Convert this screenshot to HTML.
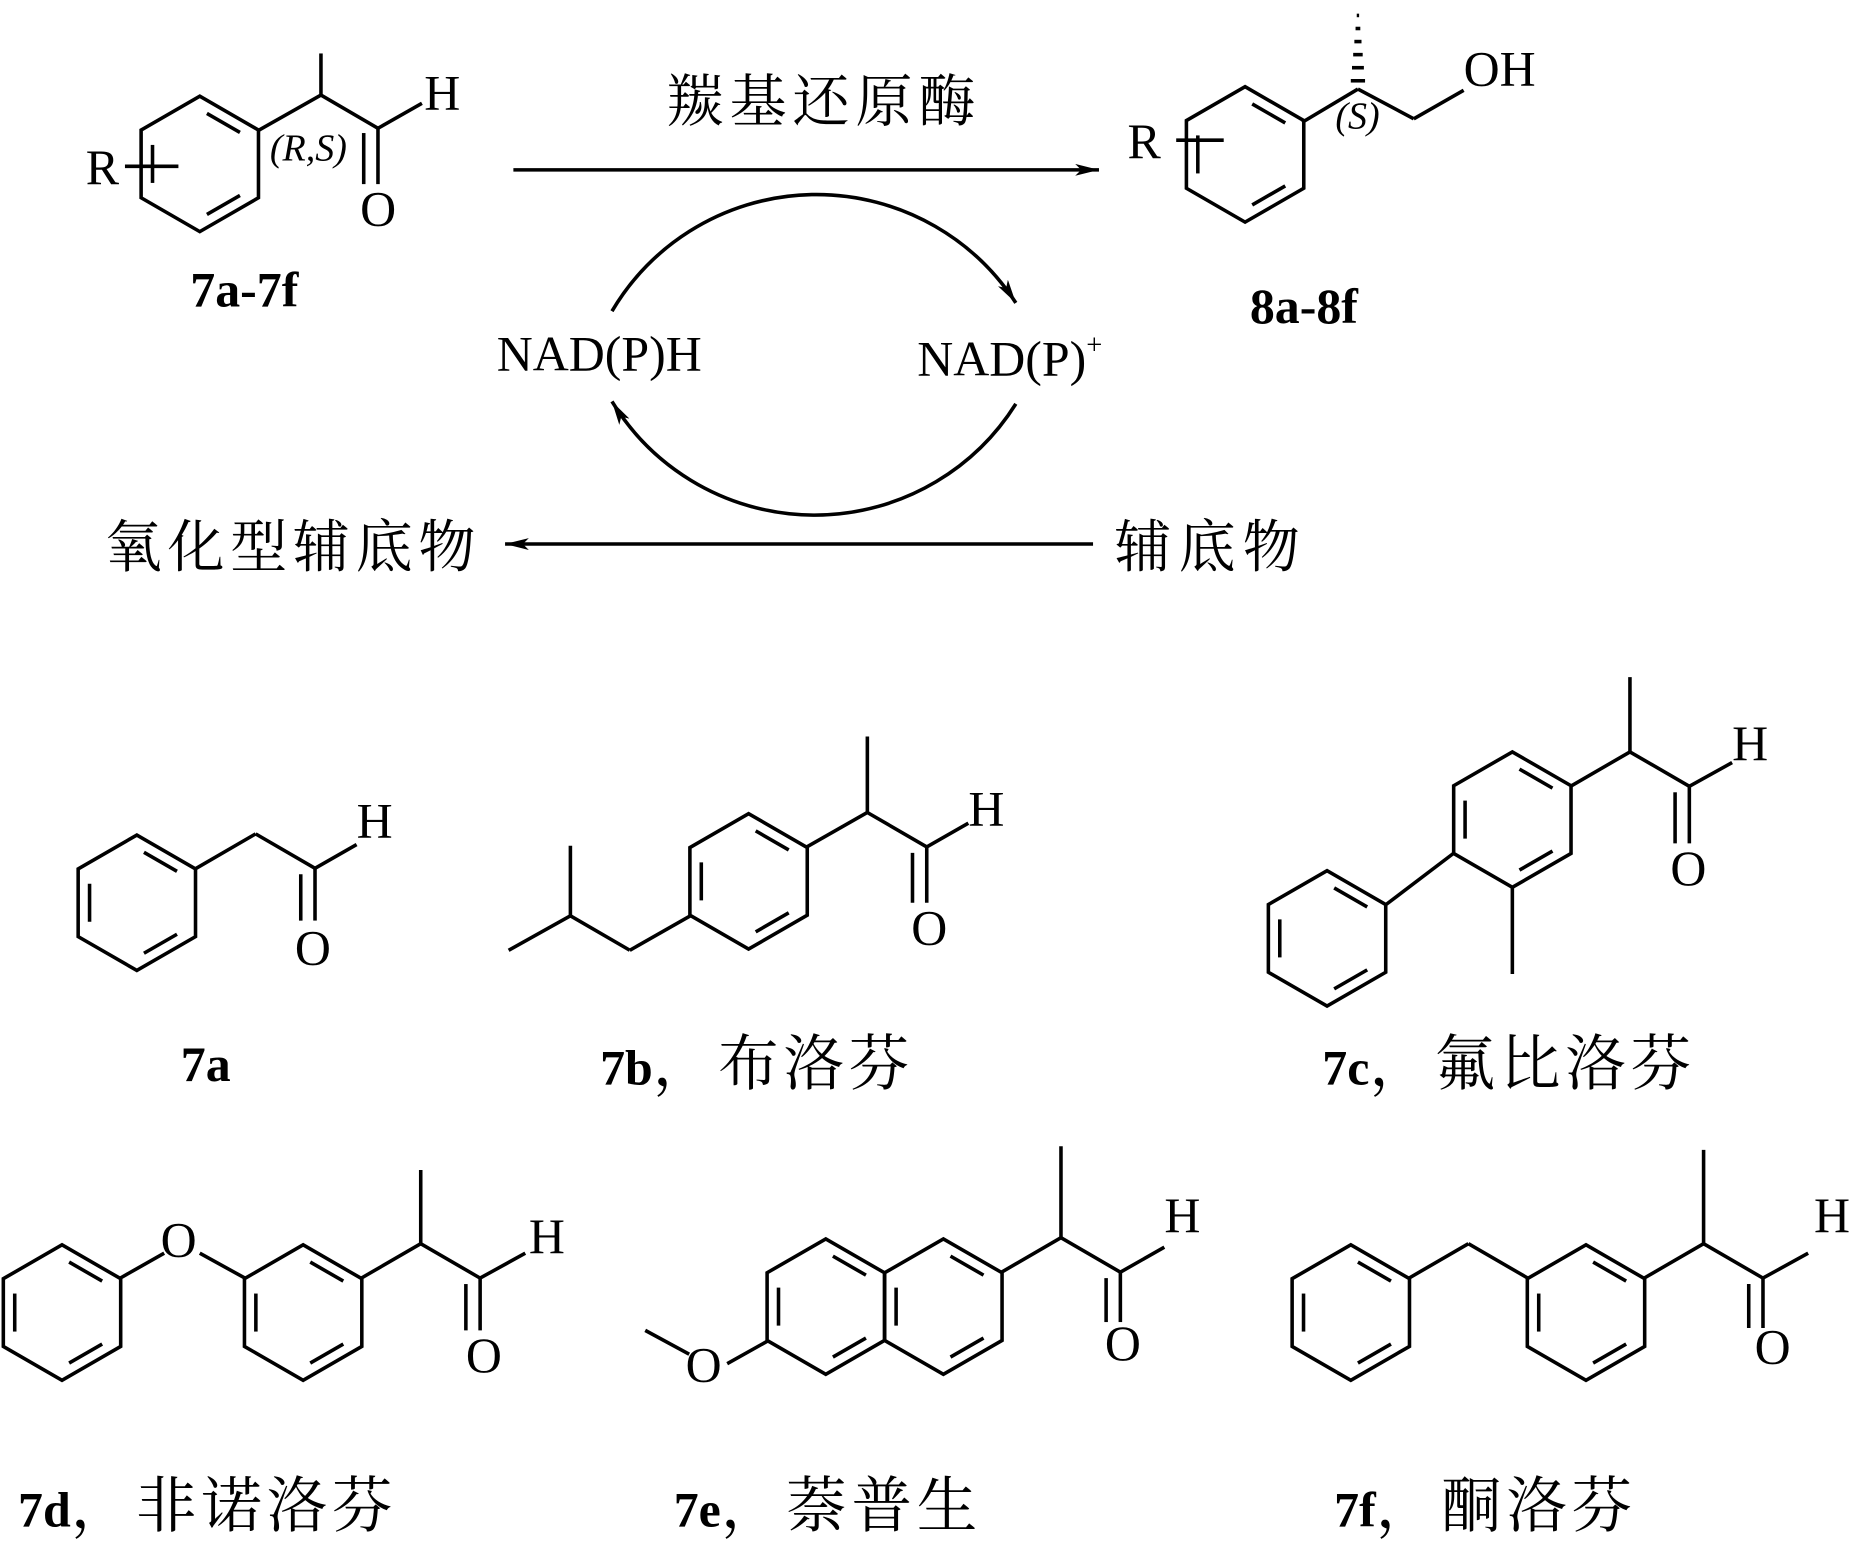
<!DOCTYPE html>
<html><head><meta charset="utf-8"><style>
html,body{margin:0;padding:0;background:#fff}
svg{display:block}
text{font-family:"Liberation Serif","Noto Serif CJK SC","Noto Sans CJK SC",serif;fill:#000}
.b{font-weight:bold}
.c{font-size:48px}
.d{font-size:51px;letter-spacing:4px}
</style></head><body>
<svg width="1863" height="1543" viewBox="0 0 1568 1299" xmlns="http://www.w3.org/2000/svg">
<defs>
<marker id="ah" viewBox="0 0 20 10" refX="20" refY="5" markerWidth="20" markerHeight="10" markerUnits="userSpaceOnUse" orient="auto"><path d="M0,0 L20,5 L0,10 L5,5Z" fill="#000"/></marker>
<g id="hx" fill="none" stroke="#000" stroke-width="3">
<polygon points="0,-57 49.4,-28.5 49.4,28.5 0,57 -49.4,28.5 -49.4,-28.5"/>
<line x1="6" y1="-42.5" x2="33.8" y2="-26.5"/>
<line x1="33.8" y1="26.5" x2="6" y2="42.5"/>
<line x1="-39.8" y1="16" x2="-39.8" y2="-16"/>
</g>
</defs>
<g fill="none" stroke="#000" stroke-width="3">
<line x1="105" y1="140" x2="150" y2="140"/>
<line x1="217" y1="110" x2="270" y2="80"/><line x1="270" y1="80" x2="270" y2="45"/>
<line x1="270" y1="80" x2="318" y2="108"/><line x1="318" y1="108" x2="355" y2="87"/>
<line x1="318" y1="108" x2="318" y2="155"/><line x1="306" y1="112" x2="306" y2="155"/>
<line x1="990" y1="118" x2="1030" y2="118"/>
<line x1="1096" y1="103" x2="1143" y2="75"/>
<line x1="1143" y1="75" x2="1190" y2="100"/><line x1="1190" y1="100" x2="1232" y2="76"/>
<line x1="432" y1="143" x2="925" y2="143" marker-end="url(#ah)"/>
<line x1="920" y1="458" x2="425" y2="458" marker-end="url(#ah)"/>
<path d="M515,262 A200,200 0 0 1 855,255" marker-end="url(#ah)"/>
<path d="M855,340 A200,200 0 0 1 515,338" marker-end="url(#ah)"/>
<line x1="165" y1="731" x2="215" y2="702"/><line x1="215" y1="702" x2="265" y2="731"/>
<line x1="265" y1="731" x2="300" y2="711"/>
<line x1="265" y1="731" x2="265" y2="775"/><line x1="253" y1="736" x2="253" y2="775"/>
<line x1="581" y1="771" x2="530" y2="800"/><line x1="530" y1="800" x2="480" y2="771"/>
<line x1="480" y1="771" x2="480" y2="712"/><line x1="480" y1="771" x2="428" y2="800"/>
<line x1="679" y1="713" x2="730" y2="684"/><line x1="730" y1="684" x2="730" y2="620"/>
<line x1="730" y1="684" x2="780" y2="713"/><line x1="780" y1="713" x2="815" y2="693"/>
<line x1="780" y1="713" x2="780" y2="760"/><line x1="768" y1="718" x2="768" y2="760"/>
<line x1="1322" y1="662" x2="1372" y2="633"/><line x1="1372" y1="633" x2="1372" y2="570"/>
<line x1="1372" y1="633" x2="1422" y2="662"/><line x1="1422" y1="662" x2="1458" y2="642"/>
<line x1="1422" y1="662" x2="1422" y2="710"/><line x1="1410" y1="667" x2="1410" y2="710"/>
<line x1="1273" y1="747" x2="1273" y2="820"/>
<line x1="1166" y1="762" x2="1224" y2="718"/>
<line x1="101" y1="1076" x2="138" y2="1055"/><line x1="168" y1="1055" x2="206" y2="1076"/>
<line x1="304" y1="1076" x2="354" y2="1047"/><line x1="354" y1="1047" x2="354" y2="985"/>
<line x1="354" y1="1047" x2="404" y2="1076"/><line x1="404" y1="1076" x2="442" y2="1055"/>
<line x1="404" y1="1076" x2="404" y2="1120"/><line x1="392" y1="1081" x2="392" y2="1120"/>
<line x1="646" y1="1129" x2="612" y2="1148"/><line x1="580" y1="1140" x2="543" y2="1120"/>
<line x1="843" y1="1071" x2="893" y2="1042"/><line x1="893" y1="1042" x2="893" y2="965"/>
<line x1="893" y1="1042" x2="943" y2="1071"/><line x1="943" y1="1071" x2="980" y2="1050"/>
<line x1="943" y1="1071" x2="943" y2="1113"/><line x1="931" y1="1076" x2="931" y2="1113"/>
<line x1="1186" y1="1076" x2="1236" y2="1047"/><line x1="1236" y1="1047" x2="1286" y2="1076"/>
<line x1="1384" y1="1076" x2="1434" y2="1047"/><line x1="1434" y1="1047" x2="1434" y2="968"/>
<line x1="1434" y1="1047" x2="1484" y2="1076"/><line x1="1484" y1="1076" x2="1522" y2="1055"/>
<line x1="1484" y1="1076" x2="1484" y2="1118"/><line x1="1472" y1="1081" x2="1472" y2="1118"/>
</g>
<g stroke="#000" stroke-width="3">
<line x1="1137" y1="68" x2="1149" y2="68"/><line x1="1138" y1="57" x2="1148" y2="57"/>
<line x1="1139" y1="46" x2="1147" y2="46"/><line x1="1140" y1="35" x2="1146" y2="35"/>
<line x1="1141" y1="24" x2="1145" y2="24"/><line x1="1142" y1="13" x2="1144" y2="13"/>
</g>
<use href="#hx" x="168" y="138"/>
<use href="#hx" x="1048" y="130"/>
<use href="#hx" x="115" y="760"/>
<use href="#hx" x="630" y="742"/>
<use href="#hx" x="1273" y="690"/>
<use href="#hx" x="1117" y="790"/>
<use href="#hx" x="52" y="1105"/>
<use href="#hx" x="255" y="1105"/>
<use href="#hx" x="695" y="1100"/>
<use href="#hx" x="794" y="1100"/>
<use href="#hx" x="1137" y="1105"/>
<use href="#hx" x="1335" y="1105"/>
<g font-size="42">
<text x="72" y="155">R</text>
<text x="357" y="92">H</text>
<text x="303" y="190">O</text>
<text x="227" y="135" font-size="32" font-style="italic">(R,S)</text>
<text x="949" y="133">R</text>
<text x="1124" y="108" font-size="32" font-style="italic">(S)</text>
<text x="1232" y="72">OH</text>
<text x="561" y="102" class="c" textLength="260">羰基还原酶</text>
<text x="418" y="312">NAD(P)H</text>
<text x="772" y="316">NAD(P)<tspan font-size="24" dy="-18">+</tspan></text>
<text x="88" y="477" class="c" textLength="312">氧化型辅底物</text>
<text x="938" y="477" class="c" textLength="156">辅底物</text>
<text x="300" y="705">H</text>
<text x="248" y="812">O</text>
<text x="815" y="695">H</text>
<text x="767" y="795">O</text>
<text x="1458" y="640">H</text>
<text x="1406" y="745">O</text>
<text x="135" y="1058">O</text>
<text x="445" y="1055">H</text>
<text x="392" y="1155">O</text>
<text x="577" y="1163">O</text>
<text x="980" y="1037">H</text>
<text x="930" y="1145">O</text>
<text x="1527" y="1037">H</text>
<text x="1477" y="1148">O</text>
<text x="152" y="910" class="b">7a</text>
<text x="505" y="913"><tspan class="b">7b</tspan><tspan class="d">，布洛芬</tspan></text>
<text x="1113" y="913"><tspan class="b">7c</tspan><tspan class="d">，氟比洛芬</tspan></text>
<text x="15" y="1285"><tspan class="b">7d</tspan><tspan class="d">，非诺洛芬</tspan></text>
<text x="567" y="1285"><tspan class="b">7e</tspan><tspan class="d">，萘普生</tspan></text>
<text x="1123" y="1285"><tspan class="b">7f</tspan><tspan class="d">，酮洛芬</tspan></text>
<text x="160" y="258" class="b">7a-7f</text>
<text x="1052" y="272" class="b">8a-8f</text>
</g>
</svg>
</body></html>
